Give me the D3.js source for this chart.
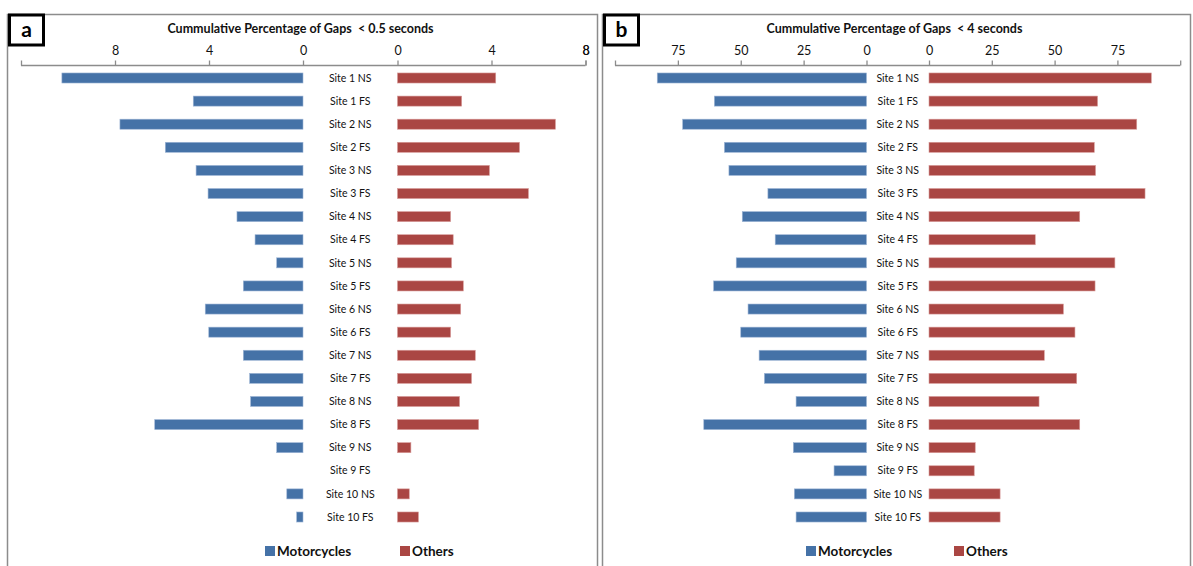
<!DOCTYPE html>
<html>
<head>
<meta charset="utf-8">
<script src="https://cdn.jsdelivr.net/npm/d3@7"></script>
<style>
  body { margin: 0; background: #fff; }
  svg { display: block; font-family: Lato, "Open Sans", sans-serif; }
</style>
</head>
<body>
<div id="chart"></div>
<script>
// site categories, top to bottom
const sites = ["Site 1 NS", "Site 1 FS", "Site 2 NS", "Site 2 FS", "Site 3 NS", "Site 3 FS",
  "Site 4 NS", "Site 4 FS", "Site 5 NS", "Site 5 FS", "Site 6 NS", "Site 6 FS",
  "Site 7 NS", "Site 7 FS", "Site 8 NS", "Site 8 FS", "Site 9 NS", "Site 9 FS",
  "Site 10 NS", "Site 10 FS"];

// panel a: gaps < 0.5 seconds
const motoA = [10.26, 4.67, 7.79, 5.86, 4.55, 4.04, 2.81, 2.04, 1.12, 2.54,
  4.16, 4.01, 2.54, 2.27, 2.23, 6.31, 1.12, 0, 0.69, 0.27];
const othersA = [4.18, 2.73, 6.72, 5.19, 3.91, 5.57, 2.26, 2.37, 2.30, 2.80,
  2.69, 2.26, 3.31, 3.15, 2.64, 3.45, 0.57, 0, 0.50, 0.89];

// panel b: gaps < 4 seconds
const motoB = [83.2, 60.5, 73.1, 56.5, 54.7, 39.2, 49.4, 36.3, 51.8, 60.8,
  47.1, 50.0, 42.7, 40.6, 28.0, 64.7, 29.1, 12.9, 28.7, 28.0];
const othersB = [88.5, 67.1, 82.7, 65.8, 66.3, 86.0, 60.0, 42.3, 74.0, 66.1,
  53.5, 58.1, 45.9, 58.8, 43.8, 60.0, 18.4, 18.0, 28.3, 28.3];

// axis tick labels
const labelsA = [0, 4, 8];
const labelsB = [0, 25, 50, 75];

const seriesNames = ["Motorcycles", "Others"];
const colors = ["#4572A7", "#AA4643"];

let width = 1193, height = 566;

let svg = d3.select("#chart").append("svg")
  .attr("width", width)
  .attr("height", height);

let panels = [
  { tag: "a", title: "Cummulative Percentage of Gaps  < 0.5 seconds",
    left: motoA, right: othersA, leftMax: 12, rightMax: 8, labels: labelsA,
    frame: [7.5, 597.5], leftRange: [21, 303], rightRange: [397.5, 585.5], legendX: [265, 400] },
  { tag: "b", title: "Cummulative Percentage of Gaps  < 4 seconds",
    left: motoB, right: othersB, leftMax: 100, rightMax: 100, labels: labelsB,
    frame: [602.5, 1190.5], leftRange: [615, 866.5], rightRange: [929, 1180.2], legendX: [806, 954] }
];

let axisY = 65.5;

let y = d3.scaleBand()
  .domain(sites)
  .range([axisY + 1, axisY + 1 + 23.1 * sites.length])
  .paddingInner(0.565)
  .paddingOuter(0.28);

panels.forEach(function(p) {
  let g = svg.append("g");

  // frame
  g.append("rect")
    .attr("x", p.frame[0]).attr("y", 14.5)
    .attr("width", p.frame[1] - p.frame[0]).attr("height", 600)
    .attr("fill", "none").attr("stroke", "#8c8c8c").attr("stroke-width", 1.5);

  // letter box
  g.append("rect")
    .attr("x", p.frame[0] + 2).attr("y", 15)
    .attr("width", 34).attr("height", 30)
    .attr("fill", "#fff").attr("stroke", "#000").attr("stroke-width", 3);
  g.append("text")
    .attr("x", p.frame[0] + 19).attr("y", 37)
    .attr("text-anchor", "middle")
    .style("font-size", "21px").style("font-weight", "bold")
    .text(p.tag);

  let xl = d3.scaleLinear().domain([p.leftMax, 0]).range(p.leftRange);
  let xr = d3.scaleLinear().domain([0, p.rightMax]).range(p.rightRange);

  // title
  g.append("text")
    .attr("x", (p.frame[0] + p.frame[1]) / 2 - 2)
    .attr("y", 33)
    .attr("text-anchor", "middle")
    .style("white-space", "pre")
    .style("font-size", "12.5px").style("font-weight", "bold")
    .attr("fill", "#111")
    .text(p.title);

  // continuous axis line
  g.append("line")
    .attr("x1", p.leftRange[0]).attr("x2", p.rightRange[1])
    .attr("y1", axisY).attr("y2", axisY)
    .attr("stroke", "#8c8c8c").attr("stroke-width", 1.5);

  function makeAxis(scale, max) {
    return d3.axisTop(scale)
      .tickValues(p.labels.concat([max]))
      .tickFormat(d => p.labels.includes(d) ? d : "")
      .tickSize(5)
      .tickSizeOuter(0)
      .tickPadding(6);
  }

  [[xl, p.leftMax], [xr, p.rightMax]].forEach(function(a) {
    let ax = g.append("g")
      .attr("transform", "translate(0," + axisY + ")")
      .call(makeAxis(a[0], a[1]));
    ax.select(".domain").remove();
    ax.selectAll(".tick line").attr("stroke", "#8c8c8c").attr("stroke-width", 1.3);
    ax.selectAll(".tick text").attr("fill", "#111")
      .style("font-size", "12.5px").style("font-family", "Lato, sans-serif");
  });

  // bars
  g.selectAll(".left-bar")
    .data(p.left)
    .join("rect")
    .attr("class", "left-bar")
    .attr("x", d => xl(d))
    .attr("y", (d, i) => y(sites[i]))
    .attr("width", d => xl(0) - xl(d))
    .attr("height", y.bandwidth())
    .attr("fill", colors[0])
    .attr("stroke", d => d > 0 ? "#9fb6d6" : "none").attr("stroke-width", 0.6);

  g.selectAll(".right-bar")
    .data(p.right)
    .join("rect")
    .attr("class", "right-bar")
    .attr("x", xr(0))
    .attr("y", (d, i) => y(sites[i]))
    .attr("width", d => xr(d) - xr(0))
    .attr("height", y.bandwidth())
    .attr("fill", colors[1])
    .attr("stroke", d => d > 0 ? "#d89c9a" : "none").attr("stroke-width", 0.6);

  // site labels
  g.selectAll(".site")
    .data(sites)
    .join("text")
    .attr("class", "site")
    .attr("x", (p.leftRange[1] + p.rightRange[0]) / 2)
    .attr("y", d => y(d) + y.bandwidth() / 2)
    .attr("dy", "0.35em")
    .attr("text-anchor", "middle")
    .attr("fill", "#111")
    .style("font-size", "10.5px")
    .text(d => d);

  // legend
  let lg = g.selectAll(".legend")
    .data(seriesNames)
    .join("g")
    .attr("class", "legend")
    .attr("transform", (d, i) => "translate(" + p.legendX[i] + ",546)");
  lg.append("rect")
    .attr("width", 10).attr("height", 10)
    .attr("fill", (d, i) => colors[i]);
  lg.append("text")
    .attr("x", 12).attr("y", 5).attr("dy", "0.35em")
    .style("font-size", "13.5px").style("font-weight", "bold")
    .attr("fill", "#111")
    .text(d => d);
});
</script>
</body>
</html>
